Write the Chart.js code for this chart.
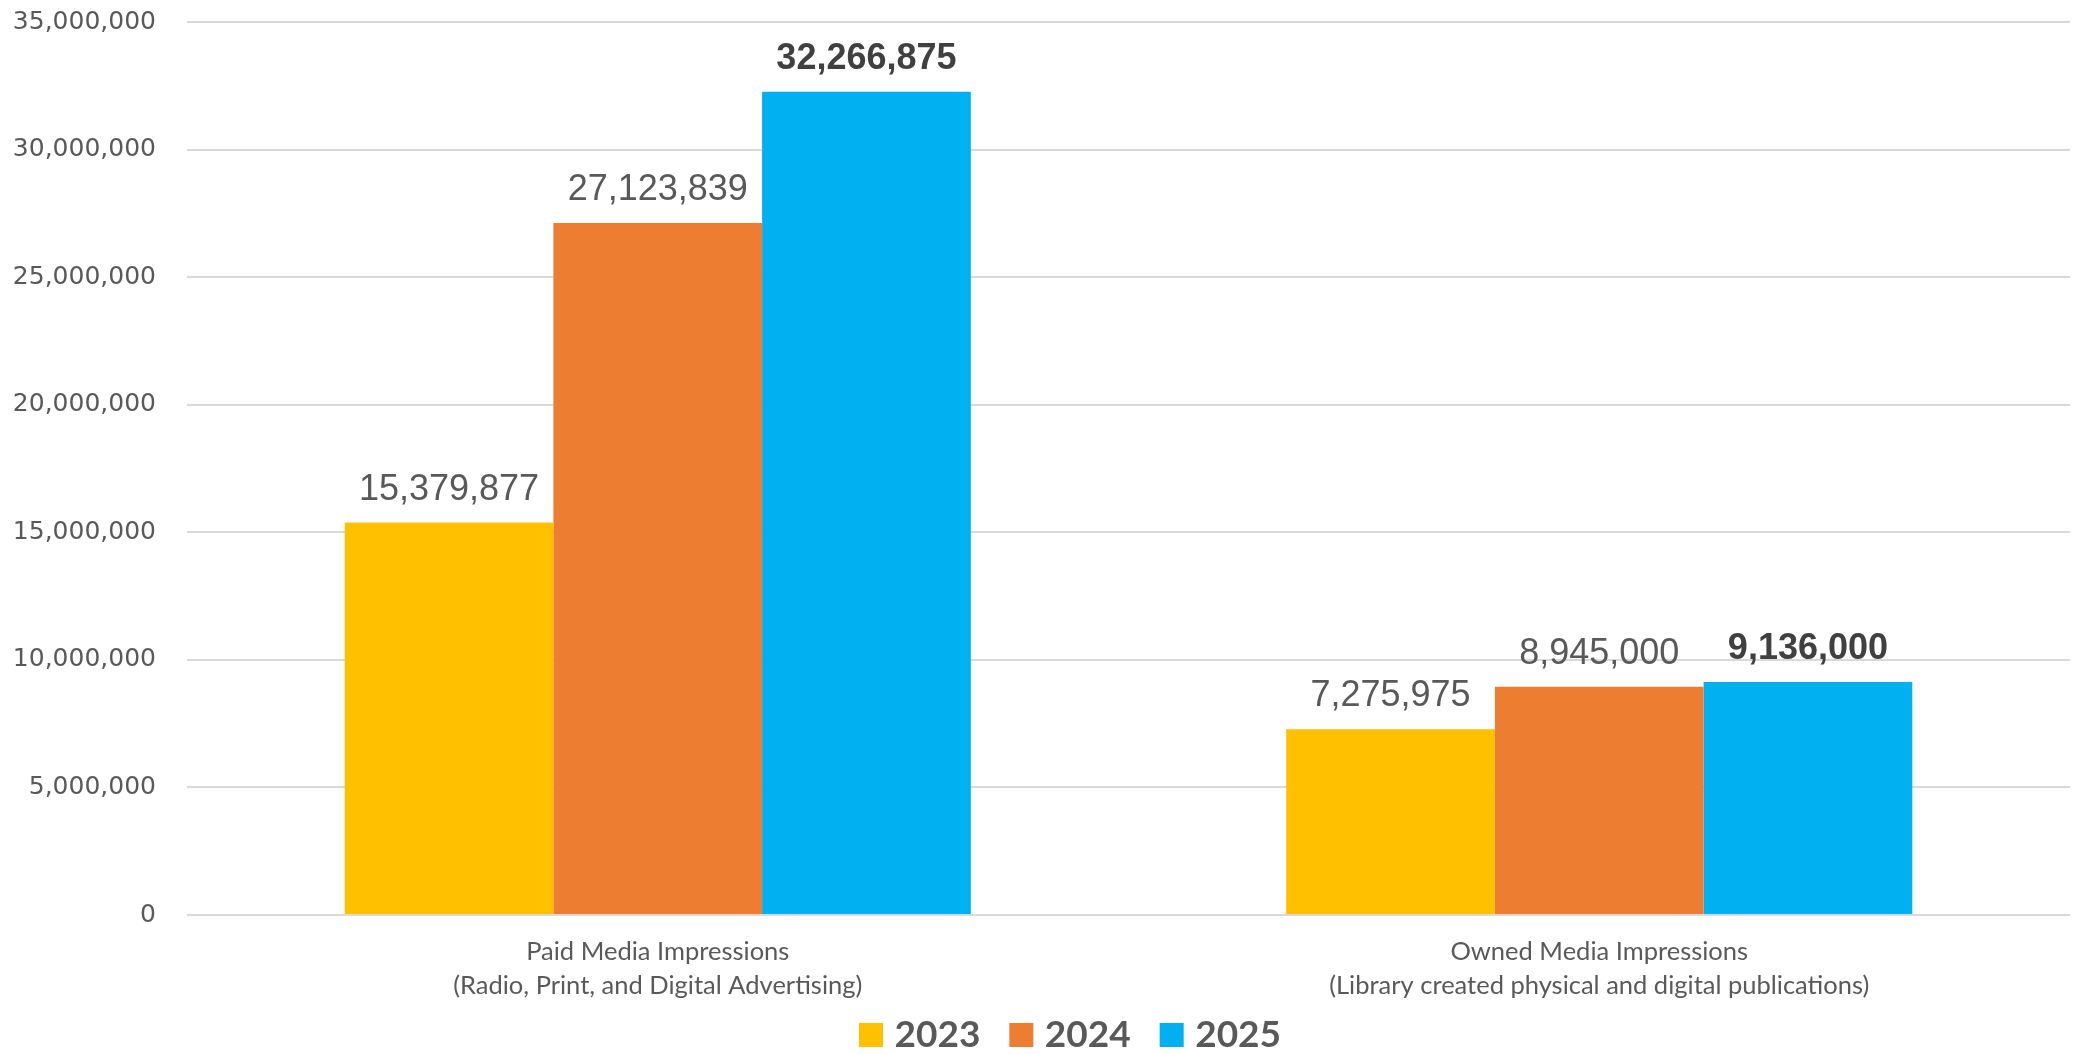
<!DOCTYPE html>
<html><head><meta charset="utf-8">
<script src="https://cdn.jsdelivr.net/npm/chart.js@4.4.1/dist/chart.umd.min.js"></script>
<style>html,body{margin:0;padding:0;background:#fff;overflow:hidden}#wrap{width:2074px;height:1054px;position:relative}</style>
</head><body><div id="wrap"><canvas id="c"></canvas></div>
<script>
const categories = [
  ["Paid Media Impressions", "(Radio, Print, and Digital Advertising)"],
  ["Owned Media Impressions", "(Library created physical and digital publications)"]
];
const seriesNames = ["2023", "2024", "2025"];
const values2023 = [15379877, 7275975];
const values2024 = [27123839, 8945000];
const values2025 = [32266875, 9136000];
const seriesColors = ["#FFC000", "#ED7D31", "#00B0F0"];
const boldLabels = [false, false, true];
const yMin = 0, yMax = 35000000, yStep = 5000000;

const fmt = v => Number(v).toLocaleString('en-US');

const LEGEND_FONT = 37, LEGEND_PAD = 36, BOX_CORE = 10, BOX_STROKE = 14;

const valueLabels = {
  id: 'valueLabels',
  afterDatasetsDraw(chart) {
    const ctx = chart.ctx;
    chart.data.datasets.forEach((ds, i) => {
      const meta = chart.getDatasetMeta(i);
      meta.data.forEach((bar, j) => {
        ctx.save();
        const bold = boldLabels[i];
        ctx.font = (bold ? 'bold ' : '') + '36px "Liberation Sans", Arial, sans-serif';
        ctx.fillStyle = bold ? '#404040' : '#595959';
        ctx.textAlign = 'center';
        ctx.textBaseline = 'alphabetic';
        ctx.fillText(fmt(ds.data[j]), bar.x, bar.y - 23);
        ctx.restore();
      });
    });
  }
};

const layoutTweak = {
  id: 'layoutTweak',
  afterLayout(chart) {
    const lg = chart.legend;
    const dy = (1035 - LEGEND_PAD - LEGEND_FONT / 2) - lg.top;
    lg.top += dy; lg.bottom += dy;
    const lw = (lg.lineWidths && lg.lineWidths[0]) || 0;
    const start = (lg.left + LEGEND_PAD + lg.right - lw) / 2;
    const dx = (859 + BOX_STROKE / 2) - start;
    lg.left += dx; lg.right += dx;
    const xs = chart.scales.x;
    xs.bottom = chart.height;
  }
};

new Chart(document.getElementById('c'), {
  type: 'bar',
  data: {
    labels: categories,
    datasets: seriesNames.map((n, i) => ({
      label: n,
      data: [values2023, values2024, values2025][i],
      backgroundColor: seriesColors[i],
      borderWidth: 0,
      categoryPercentage: 0.665,
      barPercentage: 1.0
    }))
  },
  options: {
    responsive: true,
    maintainAspectRatio: false,
    animation: false,
    devicePixelRatio: 1,
    layout: { padding: { top: 22, right: 4, left: 0, bottom: 0 } },
    plugins: {
      tooltip: { enabled: false },
      legend: {
        position: 'bottom',
        labels: {
          boxWidth: BOX_CORE, boxHeight: BOX_CORE, padding: LEGEND_PAD,
          color: '#595959',
          font: { family: 'Lato, "Open Sans", sans-serif', size: LEGEND_FONT, weight: 'bold' },
          generateLabels(chart) {
            return chart.data.datasets.map((ds, i) => ({
              text: ds.label,
              fillStyle: ds.backgroundColor,
              strokeStyle: ds.backgroundColor,
              lineWidth: BOX_STROKE,
              lineJoin: 'miter',
              fontColor: '#595959',
              hidden: !chart.isDatasetVisible(i),
              datasetIndex: i
            }));
          }
        }
      }
    },
    scales: {
      x: {
        grid: { display: false },
        border: { display: false },
        ticks: {
          color: '#595959',
          padding: 12,
          maxRotation: 0,
          font: { family: 'Lato, "Open Sans", sans-serif', size: 25.5, lineHeight: 1.34 }
        },
        afterFit(scale) {
          scale.height = Math.max(1054 - 915 - scale.chart.legend.height, 1);
          scale.paddingLeft = 0; scale.paddingRight = 0;
        }
      },
      y: {
        min: yMin, max: yMax,
        grid: { color: '#d9d9d9', lineWidth: 2, drawTicks: false },
        border: { display: false },
        ticks: {
          stepSize: yStep,
          padding: 31,
          color: '#595959',
          font: { family: '"DejaVu Sans", sans-serif', size: 25 },
          callback: v => fmt(v)
        },
        afterFit(scale) { scale.width = 187; scale.paddingTop = 0; scale.paddingBottom = 0; }
      }
    }
  },
  plugins: [valueLabels, layoutTweak]
});
</script>
</body></html>
